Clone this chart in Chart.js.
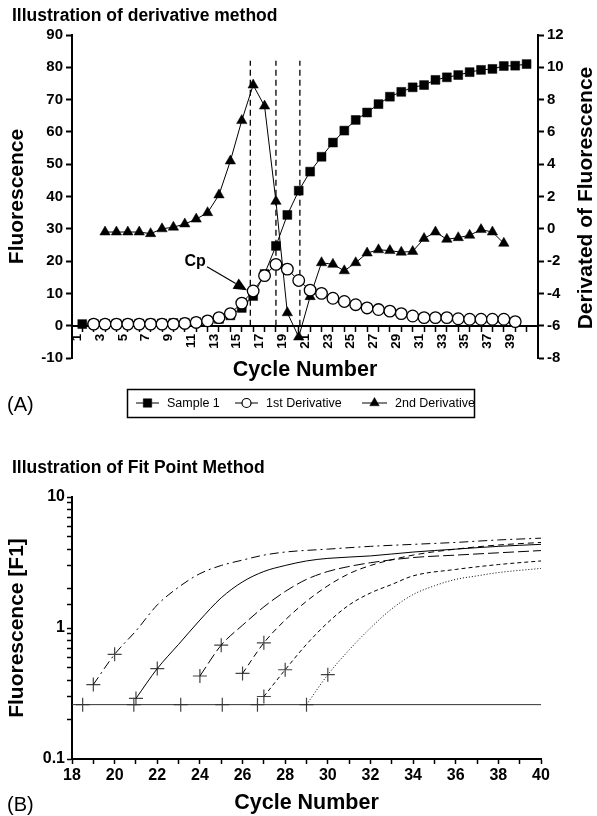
<!DOCTYPE html>
<html>
<head>
<meta charset="utf-8">
<script src="https://cdn.jsdelivr.net/npm/chart.js@4.4.0/dist/chart.umd.min.js"></script>
<style>
  html, body { margin: 0; padding: 0; background: #fff; }
  #wrap { position: relative; width: 597px; height: 816px; }
  canvas { position: absolute; left: 0; }
  #chartA { top: 0; }
  #chartB { top: 430px; }
</style>
</head>
<body>
<div id="wrap">
  <canvas id="chartA" width="597" height="430"></canvas>
  <canvas id="chartB" width="597" height="386"></canvas>
</div>
<script>
const FONT = "'Liberation Sans', Arial, Helvetica, sans-serif";

// ---------- (A) derivative method ----------
const cycles = [1, 2, 3, 4, 5, 6, 7, 8, 9, 10, 11, 12, 13, 14, 15, 16, 17, 18, 19, 20,
                21, 22, 23, 24, 25, 26, 27, 28, 29, 30, 31, 32, 33, 34, 35, 36, 37, 38, 39, 40];
const sample1 = [0.5, 0.5, 0.5, 0.6, 0.6, 0.6, 0.7, 0.7, 0.8, 0.9, 1.1, 1.5, 2.1, 3.2, 5.5, 9.2, 16, 24.7, 34.3, 41.8,
                 47.7, 52.3, 56.7, 60.4, 63.7, 66, 68.6, 70.9, 72.4, 73.8, 74.5, 76.1, 76.9, 77.6, 78.5, 79.2, 79.5, 80.4, 80.5, 81];
const firstDerivative = [null, -5.9, -5.9, -5.9, -5.9, -5.9, -5.9, -5.9, -5.9, -5.86, -5.8, -5.7, -5.5, -5.25, -4.6, -3.85, -2.9, -2.2, -2.5, -3.2,
                         -3.8, -4.0, -4.3, -4.5, -4.7, -4.9, -5.0, -5.1, -5.25, -5.4, -5.5, -5.5, -5.5, -5.57, -5.6, -5.6, -5.6, -5.6, -5.75, null];
const secondDerivative = [null, null, -0.2, -0.2, -0.2, -0.2, -0.3, 0.0, 0.1, 0.3, 0.6, 1.0, 2.1, 4.2, 6.7, 8.9, 7.6, 1.7, -5.2, -6.7,
                          -4.2, -2.1, -2.2, -2.6, -2.1, -1.5, -1.3, -1.35, -1.45, -1.4, -0.6, -0.2, -0.65, -0.55, -0.4, -0.05, -0.2, -0.9, null, null];
const seriesNames = ['Sample 1', '1st Derivative', '2nd Derivative'];
const cpLineCycles = [15.75, 18, 20.1];
const cpLineTop = 82;
const xTicksA = cycles;

// ---------- (B) fit point method ----------
const dashDotX = [19, 20, 21, 22, 23, 24, 25, 26, 27, 28, 30, 32, 34, 36, 38, 40];
const dashDotY = [0.37, 0.63, 0.95, 1.5, 2.05, 2.6, 3.0, 3.3, 3.6, 3.8, 4.0, 4.2, 4.35, 4.5, 4.7, 4.85];
const solidX = [21, 22, 23, 24, 25, 26, 27, 28, 29, 30, 32, 34, 36, 38, 40];
const solidY = [0.29, 0.49, 0.75, 1.15, 1.7, 2.25, 2.7, 3.0, 3.25, 3.4, 3.55, 3.8, 4.0, 4.2, 4.35];
const longDashX = [24, 25, 26, 27, 28, 29, 30, 31, 32, 34, 36, 38, 40];
const longDashY = [0.43, 0.74, 1.05, 1.45, 1.9, 2.35, 2.7, 2.95, 3.15, 3.45, 3.6, 3.75, 3.9];
const midDashX = [26, 27, 28, 29, 30, 31, 32, 34, 36, 38, 40];
const midDashY = [0.45, 0.77, 1.15, 1.6, 2.1, 2.6, 3.0, 3.6, 4.0, 4.3, 4.5];
const shortDashX = [27, 28, 29, 30, 31, 32, 33, 34, 36, 38, 40];
const shortDashY = [0.3, 0.48, 0.75, 1.1, 1.5, 1.85, 2.15, 2.5, 2.8, 3.05, 3.25];
const dottedX = [29, 30, 31, 32, 33, 34, 35, 36, 37, 38, 40];
const dottedY = [0.26, 0.44, 0.68, 1.0, 1.4, 1.8, 2.1, 2.35, 2.5, 2.65, 2.85];
const threshold = 0.26;
const thresholdMarksX = [18.5, 20.9, 23.1, 25.05, 26.7, 29.0];
const fitMarksX = [19, 20, 21, 22, 24, 25, 26, 27, 27, 28, 30];
const fitMarksY = [0.37, 0.63, 0.29, 0.49, 0.43, 0.74, 0.45, 0.77, 0.3, 0.48, 0.44];

const toPoints = (xs, ys) => xs.map((x, i) => ({ x: x, y: ys[i] }));

const tickFont = { family: FONT, size: 15, weight: 'bold' };
const titleFont = { family: FONT, size: 21, weight: 'bold' };

// text, Cp arrow and boxed legend for chart A
const annotA = {
  id: 'annotA',
  afterDraw(chart) {
    const ctx = chart.ctx;
    const xs = chart.scales.x, ys = chart.scales.y;
    ctx.save();
    ctx.fillStyle = '#000';
    ctx.strokeStyle = '#000';

    ctx.font = 'bold 17.5px ' + FONT;
    ctx.textAlign = 'left';
    ctx.textBaseline = 'alphabetic';
    ctx.fillText('Illustration of derivative method', 12, 21);

    ctx.font = 'bold 21.5px ' + FONT;
    ctx.textAlign = 'center';
    ctx.textBaseline = 'middle';
    ctx.fillText('Cycle Number', (chart.chartArea.left + chart.chartArea.right) / 2, 370);

    ctx.save();
    ctx.translate(586, 198);
    ctx.rotate(-Math.PI / 2);
    ctx.font = 'bold 21px ' + FONT;
    ctx.fillText('Derivated of Fluorescence', 0, 0);
    ctx.restore();

    ctx.font = '20px ' + FONT;
    ctx.textAlign = 'left';
    ctx.fillText('(A)', 7, 405);

    // Cp arrow
    ctx.font = 'bold 16px ' + FONT;
    ctx.textAlign = 'center';
    const tx = xs.getPixelForValue(10.9), ty = ys.getPixelForValue(19.8);
    ctx.fillText('Cp', tx, ty);
    const sx = tx + 12, sy = ty + 5;
    const ex = xs.getPixelForValue(15.45), ey = ys.getPixelForValue(11);
    const ang = Math.atan2(ey - sy, ex - sx);
    const hl = 13, hw = 6;
    ctx.lineWidth = 1.2;
    ctx.beginPath();
    ctx.moveTo(sx, sy);
    ctx.lineTo(ex - hl * Math.cos(ang), ey - hl * Math.sin(ang));
    ctx.stroke();
    ctx.beginPath();
    ctx.moveTo(ex, ey);
    ctx.lineTo(ex - hl * Math.cos(ang) - hw * Math.sin(ang), ey - hl * Math.sin(ang) + hw * Math.cos(ang));
    ctx.lineTo(ex - hl * Math.cos(ang) + hw * Math.sin(ang), ey - hl * Math.sin(ang) - hw * Math.cos(ang));
    ctx.closePath();
    ctx.fill();

    // legend box
    ctx.lineWidth = 1.5;
    ctx.strokeRect(127.5, 389.5, 347, 28);
    const items = [
      { x: 136, w: 23, style: 'rect', r: 6, fill: '#000' },
      { x: 235, w: 23, style: 'circle', r: 4.5, fill: '#fff' },
      { x: 362, w: 25, style: 'triangle', r: 5.5, fill: '#000' }
    ];
    ctx.font = '12.5px ' + FONT;
    ctx.textAlign = 'left';
    ctx.textBaseline = 'middle';
    const ly = 403;
    items.forEach((it, i) => {
      ctx.lineWidth = 1;
      ctx.strokeStyle = '#000';
      ctx.beginPath();
      ctx.moveTo(it.x, ly);
      ctx.lineTo(it.x + it.w, ly);
      ctx.stroke();
      ctx.fillStyle = it.fill;
      ctx.lineWidth = it.style === 'circle' ? 1.2 : 0.5;
      Chart.helpers.drawPoint(ctx, { pointStyle: it.style, radius: it.r, rotation: 0, borderWidth: ctx.lineWidth }, it.x + it.w / 2, ly);
      ctx.fillStyle = '#000';
      ctx.fillText(seriesNames[i], it.x + it.w + 8, ly + 0.5);
    });
    ctx.restore();
  }
};

const chartA = new Chart(document.getElementById('chartA').getContext('2d'), {
  type: 'line',
  data: {
    datasets: [
      {
        label: seriesNames[0], data: toPoints(cycles, sample1), yAxisID: 'y',
        borderColor: '#000', borderWidth: 1, pointStyle: 'rect', pointRadius: 6.3,
        pointBackgroundColor: '#000', pointBorderColor: '#000', pointBorderWidth: 0.5, order: 3
      },
      {
        label: seriesNames[1], data: toPoints(cycles, firstDerivative), yAxisID: 'y1',
        borderColor: '#000', borderWidth: 1, pointStyle: 'circle', pointRadius: 5.8,
        pointBackgroundColor: '#fff', pointBorderColor: '#000', pointBorderWidth: 1.3, order: 1
      },
      {
        label: seriesNames[2], data: toPoints(cycles, secondDerivative), yAxisID: 'y1',
        borderColor: '#000', borderWidth: 1, pointStyle: 'triangle', pointRadius: 6,
        pointBackgroundColor: '#000', pointBorderColor: '#000', pointBorderWidth: 0.5, order: 2
      },
      ...cpLineCycles.map(c => ({
        label: 'Cp line', data: [{ x: c, y: 0 }, { x: c, y: cpLineTop }], yAxisID: 'y',
        borderColor: '#000', borderWidth: 1.3, borderDash: [6, 4], pointRadius: 0, order: 4
      }))
    ]
  },
  options: {
    responsive: false,
    animation: false,
    layout: { padding: { top: 35, bottom: 72, left: 0, right: 0 } },
    plugins: { legend: { display: false }, tooltip: { enabled: false } },
    scales: {
      x: {
        type: 'linear', min: 0.1, max: 41, position: { y: 0 },
        afterFit: s => { s.height = 0; },
        afterBuildTicks: s => { s.ticks = xTicksA.map(v => ({ value: v })); },
        ticks: {
          autoSkip: false, minRotation: 90, maxRotation: 90, padding: 3, color: '#000', labelOffset: -5,
          font: { family: FONT, size: 13.5, weight: 'bold' },
          callback: v => (v % 2 === 1 ? String(v) : '')
        },
        grid: { drawOnChartArea: false, tickLength: 5, tickWidth: 1.5, tickColor: '#000' },
        border: { color: '#000', width: 2 }
      },
      y: {
        position: 'left', min: -10, max: 90,
        afterFit: s => { s.width = 72; },
        ticks: { stepSize: 10, color: '#000', font: tickFont, padding: 3 },
        grid: { drawOnChartArea: false, tickLength: 6, tickWidth: 2, tickColor: '#000' },
        border: { color: '#000', width: 2 },
        title: { display: true, text: 'Fluorescence', color: '#000', font: titleFont, padding: { top: 5, bottom: 0 } }
      },
      y1: {
        position: 'right', min: -8, max: 12,
        afterFit: s => { s.width = 59; },
        ticks: { stepSize: 2, color: '#000', font: tickFont, padding: 3 },
        grid: { drawOnChartArea: false, tickLength: 6, tickWidth: 2, tickColor: '#000' },
        border: { color: '#000', width: 2 }
      }
    }
  },
  plugins: [annotA]
});

// ---------- chart B ----------
const annotB = {
  id: 'annotB',
  afterDraw(chart) {
    const ctx = chart.ctx;
    ctx.save();
    ctx.fillStyle = '#000';
    ctx.font = 'bold 17.5px ' + FONT;
    ctx.textAlign = 'left';
    ctx.textBaseline = 'alphabetic';
    ctx.fillText('Illustration of Fit Point Method', 12, 43);
    ctx.font = '20px ' + FONT;
    ctx.textBaseline = 'middle';
    ctx.fillText('(B)', 7, 375);
    ctx.restore();
  }
};

const curveStyles = [
  { xs: dashDotX, ys: dashDotY, dash: [9, 4, 2, 4] },
  { xs: solidX, ys: solidY, dash: [] },
  { xs: longDashX, ys: longDashY, dash: [11, 4] },
  { xs: midDashX, ys: midDashY, dash: [6, 4] },
  { xs: shortDashX, ys: shortDashY, dash: [4, 3] },
  { xs: dottedX, ys: dottedY, dash: [1, 2] }
];

const chartB = new Chart(document.getElementById('chartB').getContext('2d'), {
  type: 'line',
  data: {
    datasets: [
      ...curveStyles.map(c => ({
        data: toPoints(c.xs, c.ys), borderColor: '#000', borderWidth: 1, borderDash: c.dash,
        pointRadius: 0, cubicInterpolationMode: 'monotone'
      })),
      {
        data: [{ x: 18, y: threshold }, { x: 40, y: threshold }],
        borderColor: '#333', borderWidth: 1, pointRadius: 0
      },
      {
        data: toPoints(thresholdMarksX, thresholdMarksX.map(() => threshold)).concat(toPoints(fitMarksX, fitMarksY)),
        showLine: false, pointStyle: 'cross', pointRadius: 7,
        pointBorderColor: '#444', pointBorderWidth: 1.2
      }
    ]
  },
  options: {
    responsive: false,
    animation: false,
    layout: { padding: { top: 67, bottom: 0, left: 0, right: 56 } },
    plugins: { legend: { display: false }, tooltip: { enabled: false } },
    scales: {
      x: {
        type: 'linear', min: 18, max: 40,
        afterFit: s => { s.height = 57; },
        ticks: {
          stepSize: 1, autoSkip: false, maxRotation: 0, color: '#000', font: { family: FONT, size: 16, weight: 'bold' }, padding: 2,
          callback: v => (v % 2 === 0 ? String(v) : '')
        },
        grid: { drawOnChartArea: false, tickLength: 5, tickWidth: 1.5, tickColor: '#000' },
        border: { color: '#000', width: 2 },
        title: { display: true, text: 'Cycle Number', color: '#000', font: { family: FONT, size: 21.5, weight: 'bold' }, padding: { top: 0, bottom: 0 } }
      },
      y: {
        type: 'logarithmic', min: 0.1, max: 10,
        afterFit: s => { s.width = 72; },
        ticks: {
          autoSkip: false, color: '#000', font: { family: FONT, size: 16, weight: 'bold' }, padding: 2,
          callback: v => {
            const l = Math.log10(v);
            return Math.abs(l - Math.round(l)) < 1e-9 ? String(Number(v.toPrecision(3))) : '';
          }
        },
        grid: { drawOnChartArea: false, tickLength: 5, tickWidth: 1.5, tickColor: '#000' },
        border: { color: '#000', width: 2 },
        title: { display: true, text: 'Fluorescence [F1]', color: '#000', font: titleFont, padding: { top: 5, bottom: 0 } }
      }
    }
  },
  plugins: [annotB]
});
</script>
</body>
</html>
